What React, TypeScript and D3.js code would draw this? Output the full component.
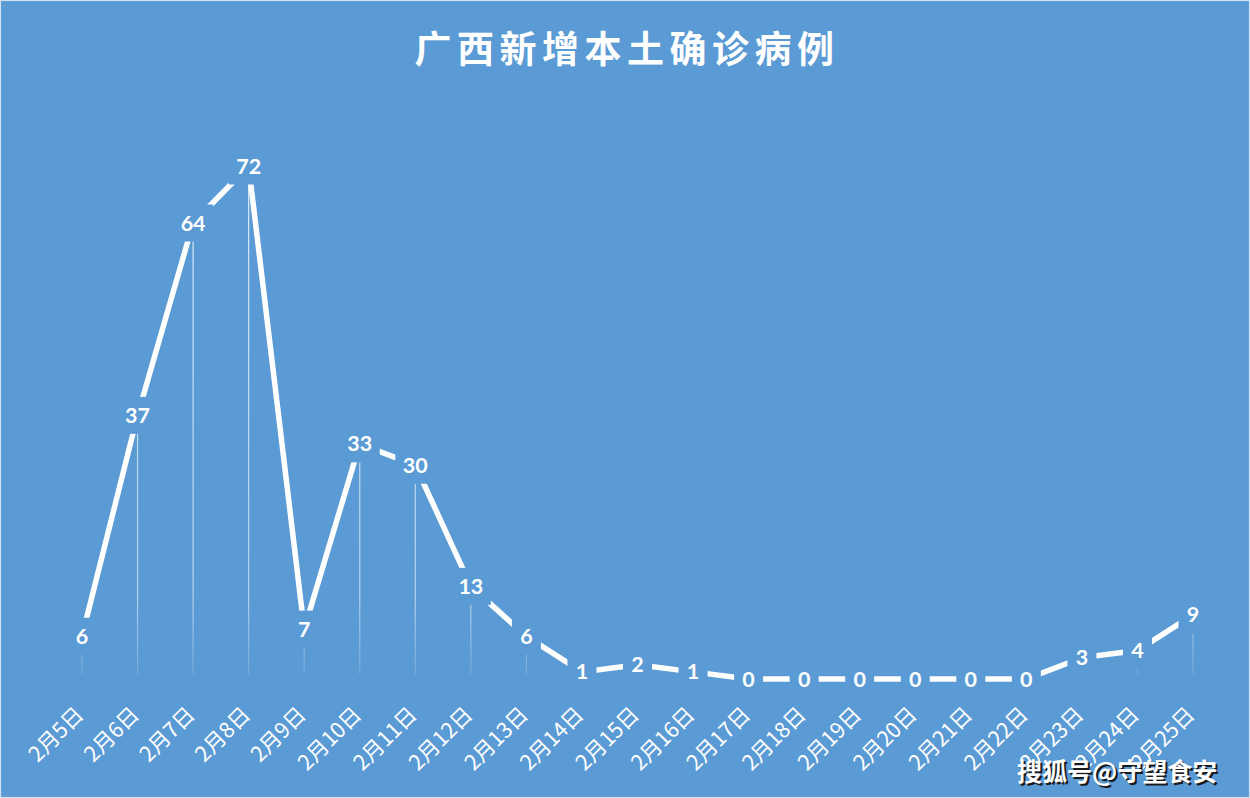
import { useEffect, useRef } from "react";
import * as d3 from "d3";

const TITLE = "广西新增本土确诊病例";
const WATERMARK = "搜狐号@守望食安";
const DATES = [
  "2月5日", "2月6日", "2月7日", "2月8日", "2月9日", "2月10日", "2月11日",
  "2月12日", "2月13日", "2月14日", "2月15日", "2月16日", "2月17日", "2月18日",
  "2月19日", "2月20日", "2月21日", "2月22日", "2月23日", "2月24日", "2月25日",
];
const CASES = [6, 37, 64, 72, 7, 33, 30, 13, 6, 1, 2, 1, 0, 0, 0, 0, 0, 0, 3, 4, 9];

const BG = "#5a9ad5";

export default function App() {
  const ref = useRef<SVGSVGElement>(null);
  useEffect(() => {
    const el = ref.current;
    if (!el) return;
    const W = 1250, H = 798;
    const svg = d3.select(el).attr("width", W).attr("height", H).attr("viewBox", `0 0 ${W} ${H}`);
    svg.selectAll("*").remove();

    svg.append("rect").attr("width", W).attr("height", H).attr("fill", BG);
    svg.append("rect").attr("x", 0.5).attr("y", 0.5).attr("width", W - 1).attr("height", H - 1)
      .attr("fill", "none").attr("stroke", "#cfe0f0").attr("stroke-width", 1.2);

    const x = d3.scalePoint<string>().domain(DATES).range([82, 1193]);
    const y = d3.scaleLinear().domain([0, 72]).range([679, 166]);

    // gradient for drop lines
    const defs = svg.append("defs");
    const grad = defs.append("linearGradient").attr("id", "drop").attr("gradientUnits", "userSpaceOnUse")
      .attr("x1", 0).attr("x2", 0).attr("y1", y(72)).attr("y2", y(0) - 5);
    grad.append("stop").attr("offset", 0).attr("stop-color", "#fff").attr("stop-opacity", 0.8);
    grad.append("stop").attr("offset", 0.85).attr("stop-color", "#fff").attr("stop-opacity", 0.55);
    grad.append("stop").attr("offset", 1).attr("stop-color", "#fff").attr("stop-opacity", 0.15);

    // title
    svg.append("text").attr("x", 627).attr("y", 47).attr("text-anchor", "middle").attr("dominant-baseline", "central")
      .attr("fill", "#fff").attr("font-size", 37).attr("font-weight", 700).attr("letter-spacing", 5.5)
      .attr("font-family", "'Noto Sans CJK SC', sans-serif").text(TITLE);

    // drop lines
    svg.append("g").selectAll("line").data(CASES).join("line")
      .attr("x1", (_d, i) => x(DATES[i]) ?? 0).attr("x2", (_d, i) => x(DATES[i]) ?? 0)
      .attr("y1", (d) => y(d)).attr("y2", y(0) - 5)
      .attr("stroke", "url(#drop)").attr("stroke-width", 1.2);

    // line
    const line = d3.line<number>().x((_d, i) => x(DATES[i]) ?? 0).y((d) => y(d));
    svg.append("path").attr("d", line(CASES)).attr("fill", "none").attr("stroke", "#fff")
      .attr("stroke-width", 5.5).attr("stroke-linejoin", "miter");

    // data labels with background boxes
    const lab = svg.append("g").selectAll("g").data(CASES).join("g")
      .attr("transform", (d, i) => `translate(${x(DATES[i])},${y(d)})`);
    lab.append("rect")
      .attr("x", (d) => -(String(d).length * 11 + 18) / 2).attr("width", (d) => String(d).length * 11 + 18)
      .attr("y", -18.5).attr("height", 37).attr("fill", BG);
    lab.append("text").attr("text-anchor", "middle").attr("y", 7.5)
      .attr("fill", "#fff").attr("font-size", 21.5).attr("font-weight", 700)
      .attr("font-family", "Lato, 'Open Sans', sans-serif").text((d) => d);

    // x axis labels
    svg.append("g").selectAll("text").data(DATES).join("text")
      .attr("transform", (d) => `translate(${(x(d) ?? 0) + 3},716) rotate(-45)`)
      .attr("text-anchor", "end").attr("fill", "#fff").attr("font-size", 21.5)
      .attr("font-family", "'Noto Sans CJK SC', sans-serif").text((d) => d);

    // watermark
    [["#1a1a1a", 2], ["#fff", 0]].forEach(([c, o]) => {
      svg.append("text").attr("x", 1017 + (o as number)).attr("y", 770 + (o as number)).attr("dominant-baseline", "central")
        .attr("fill", c as string).attr("font-size", 25).attr("font-weight", 700)
        .attr("font-family", "'Noto Sans CJK SC', sans-serif").text(WATERMARK);
    });
  }, []);
  return <svg ref={ref} style={{ position: "absolute", left: 0, top: 0 }} role="img" aria-label={TITLE} />;
}
